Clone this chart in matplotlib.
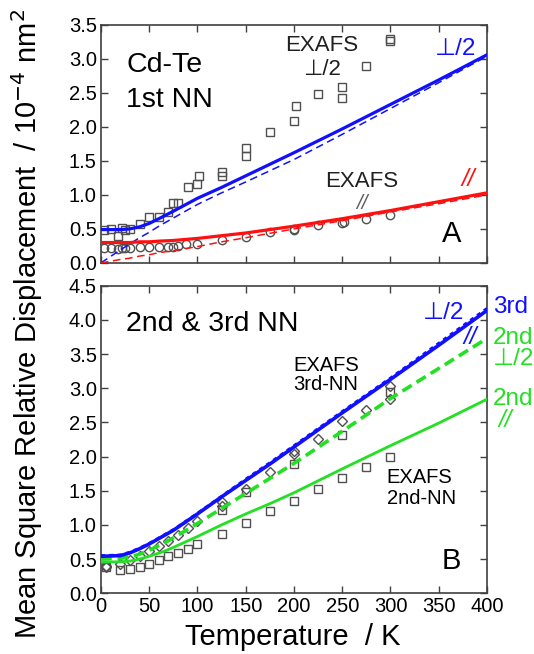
import numpy as np
import matplotlib
matplotlib.use("Agg")
import matplotlib.pyplot as plt

plt.rcParams["font.family"] = ["Liberation Sans", "DejaVu Sans"]

# ---- panel A : Cd-Te 1st NN ----
t_curve_a = [0, 20, 30, 40, 50, 60, 75, 100, 125, 150, 200, 250, 300, 350, 400]
perp_calc_a = [0.49, 0.49, 0.50, 0.53, 0.58, 0.65, 0.76, 0.95, 1.11, 1.28, 1.62, 1.97, 2.33, 2.69, 3.06]
perp_class_a = [0.0, 0.19, 0.28, 0.37, 0.45, 0.54, 0.66, 0.86, 1.03, 1.19, 1.52, 1.89, 2.27, 2.65, 3.04]
para_calc_a = [0.30, 0.30, 0.30, 0.31, 0.31, 0.32, 0.33, 0.36, 0.40, 0.44, 0.54, 0.65, 0.77, 0.90, 1.03]
para_class_a = [0.0, 0.05, 0.07, 0.10, 0.12, 0.15, 0.18, 0.24, 0.31, 0.37, 0.50, 0.62, 0.75, 0.87, 1.00]

t_sq_a = [3, 10, 18, 22, 25, 30, 40, 50, 60, 70, 75, 80, 90, 100, 102, 125, 125,
          150, 150, 175, 200, 202, 225, 250, 250, 275, 300, 300]
v_sq_a = [0.485, 0.50, 0.40, 0.51, 0.49, 0.50, 0.57, 0.67, 0.67, 0.745, 0.88, 0.88,
          1.11, 1.16, 1.28, 1.28, 1.34, 1.57, 1.69, 1.93, 2.09, 2.30, 2.48, 2.42,
          2.58, 2.90, 3.26, 3.29]
t_ci_a = [3, 10, 18, 22, 25, 30, 40, 50, 60, 70, 75, 80, 88, 100, 125, 150, 175,
          200, 200, 225, 250, 252, 275, 300]
v_ci_a = [0.22, 0.22, 0.21, 0.22, 0.22, 0.22, 0.23, 0.23, 0.23, 0.24, 0.24, 0.25,
          0.28, 0.28, 0.33, 0.38, 0.45, 0.50, 0.48, 0.55, 0.59, 0.60, 0.65, 0.71]

# ---- panel B : 2nd & 3rd NN ----
t_curve_b = [0, 20, 30, 40, 50, 65, 75, 100, 125, 150, 175, 200, 250, 300, 350, 400]
third_perp_b = [0.54, 0.55, 0.59, 0.65, 0.72, 0.84, 0.92, 1.16, 1.41, 1.65, 1.89,
                2.14, 2.64, 3.13, 3.63, 4.14]
third_para_b = [0.55, 0.56, 0.60, 0.66, 0.73, 0.85, 0.93, 1.17, 1.42, 1.67, 1.91,
                2.16, 2.66, 3.15, 3.66, 4.17]
second_perp_b = [0.50, 0.51, 0.53, 0.57, 0.63, 0.73, 0.81, 1.02, 1.24, 1.46, 1.68,
                 1.90, 2.37, 2.85, 3.29, 3.73]
second_para_b = [0.455, 0.46, 0.47, 0.50, 0.54, 0.61, 0.67, 0.83, 1.00, 1.16, 1.31,
                 1.47, 1.82, 2.16, 2.49, 2.84]

t_di_b = [5, 5, 20, 30, 40, 50, 60, 70, 80, 90, 100, 125, 125, 150, 175, 200, 200,
          225, 250, 275, 300, 300]
v_di_b = [0.38, 0.40, 0.42, 0.48, 0.55, 0.62, 0.69, 0.76, 0.85, 0.96, 1.06, 1.33,
          1.27, 1.53, 1.77, 2.04, 2.08, 2.26, 2.52, 2.68, 3.03, 2.84]
t_sq_b = [5, 20, 30, 40, 50, 60, 70, 80, 90, 100, 125, 125, 150, 150, 175, 200, 200,
          225, 250, 250, 275, 300, 300]
v_sq_b = [0.38, 0.34, 0.36, 0.39, 0.43, 0.49, 0.54, 0.59, 0.65, 0.72, 0.87, 1.22,
          1.03, 1.48, 1.20, 1.35, 1.89, 1.52, 1.68, 2.31, 1.85, 2.00, 2.95]

BLUE = "#1010ff"
RED = "#ff1010"
GREEN = "#22e022"
GREY = "#505050"
SPINE = "#404040"

fig = plt.figure(figsize=(5.34, 6.54), dpi=100)
ax_a = fig.add_axes([0.189, 0.598, 0.723, 0.364])
ax_b = fig.add_axes([0.189, 0.093, 0.723, 0.470])

mk = dict(linestyle="none", markerfacecolor="none", markeredgecolor=GREY,
          markeredgewidth=1.0, zorder=3)

# panel A
ax_a.plot(t_sq_a, v_sq_a, marker="s", markersize=5.5, **mk)
ax_a.plot(t_ci_a, v_ci_a, marker="o", markersize=6, **mk)
ax_a.plot(t_curve_a, perp_class_a, color=BLUE, lw=1.1, ls=(0, (5, 3)), zorder=4)
ax_a.plot(t_curve_a, para_class_a, color=RED, lw=1.1, ls=(0, (5, 3)), zorder=4)
ax_a.plot(t_curve_a, perp_calc_a, color=BLUE, lw=2.3, zorder=5)
ax_a.plot(t_curve_a, para_calc_a, color=RED, lw=2.3, zorder=5)
ax_a.set_ylim(0, 3.5)

ax_a.text(26, 2.91, "Cd-Te", fontsize=20.5, ha="left", va="center")
ax_a.text(26, 2.40, "1st NN", fontsize=20.5, ha="left", va="center")
ax_a.text(229, 3.19, "EXAFS", fontsize=16, ha="center", va="center", color="#202020")
ax_a.text(229, 2.84, "\u22a5/2", fontsize=16, ha="center", va="center", color="#202020")
ax_a.text(367, 3.14, "\u22a5/2", fontsize=17.5, ha="center", va="center", color=BLUE)
ax_a.text(270, 1.19, "EXAFS", fontsize=16, ha="center", va="center", color="#202020")
ax_a.text(270, 0.87, "//", fontsize=15, ha="center", va="center", color="#606060",
          style="italic")
ax_a.text(380, 1.22, "//", fontsize=17.5, ha="center", va="center", color=RED,
          style="italic")
ax_a.text(363, 0.42, "A", fontsize=21, ha="center", va="center")

# panel B
ax_b.plot(t_sq_b, v_sq_b, marker="s", markersize=5.5, **mk)
ax_b.plot(t_di_b, v_di_b, marker="D", markersize=5.5, **mk)
ax_b.plot(t_curve_b, second_para_b, color=GREEN, lw=2.0, zorder=4)
ax_b.plot(t_curve_b, second_perp_b, color=GREEN, lw=2.6, ls=(0, (3, 1.6)), zorder=4)
ax_b.plot(t_curve_b, third_perp_b, color=BLUE, lw=2.6, zorder=5)
ax_b.plot(t_curve_b, third_para_b, color=BLUE, lw=2.0, ls=(0, (1.5, 1.5)), zorder=5)
ax_b.set_ylim(0, 4.5)

ax_b.text(26, 3.94, "2nd & 3rd NN", fontsize=20.5, ha="left", va="center")
ax_b.text(355, 4.10, "\u22a5/2", fontsize=17.5, ha="center", va="center", color=BLUE)
ax_b.text(382, 3.75, "//", fontsize=17.5, ha="center", va="center", color=BLUE,
          style="italic")
ax_b.text(233, 3.34, "EXAFS", fontsize=14.5, ha="center", va="center")
ax_b.text(233, 3.06, "3rd-NN", fontsize=14.5, ha="center", va="center")
ax_b.text(296, 1.69, "EXAFS", fontsize=14.5, ha="left", va="center")
ax_b.text(296, 1.39, "2nd-NN", fontsize=14.5, ha="left", va="center")
ax_b.text(363, 0.47, "B", fontsize=21, ha="center", va="center")

side = dict(fontsize=17.5, ha="left", va="center", clip_on=False)
ax_b.text(406, 4.19, "3rd", color=BLUE, **side)
ax_b.text(406, 3.74, "2nd", color=GREEN, **side)
ax_b.text(406, 3.43, "\u22a5/2", color=GREEN, **side)
ax_b.text(406, 2.84, "2nd", color=GREEN, **side)
ax_b.text(412, 2.53, "//", color=GREEN, style="italic", **side)

for ax in (ax_a, ax_b):
    ax.set_xlim(0, 400)
    ax.set_xticks(np.arange(0, 401, 50))
    ax.set_yticks(np.arange(0, ax.get_ylim()[1] + 0.01, 0.5))
    ax.yaxis.set_major_formatter(matplotlib.ticker.FormatStrFormatter("%.1f"))
    ax.tick_params(direction="in", length=5, width=1.0, top=True, right=True,
                   labelsize=14.5, color=SPINE, pad=3)
    for s in ax.spines.values():
        s.set_color(SPINE)
        s.set_linewidth(1.2)

ax_a.tick_params(labelbottom=False)

fig.text(0.549, 0.004, "Temperature  / K", fontsize=21, ha="center", va="bottom")
fig.text(0.05, 0.505, "Mean Square Relative Displacement  / 10$^{-4}$ nm$^2$",
         fontsize=21, rotation=90, ha="center", va="center")

fig.savefig("out.png", dpi=100)
